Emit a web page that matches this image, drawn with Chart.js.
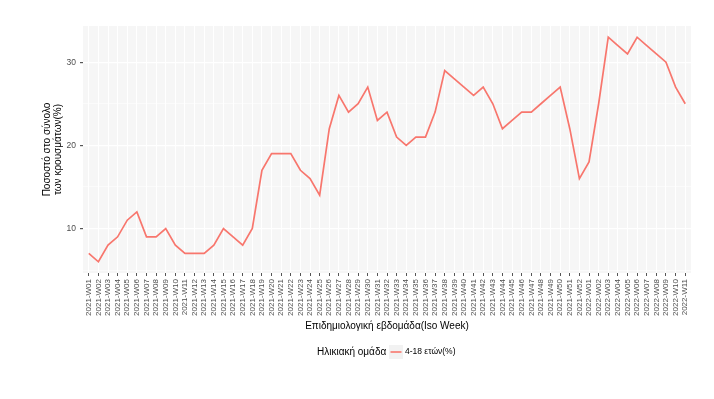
<!DOCTYPE html>
<html>
<head>
<meta charset="utf-8">
<script src="https://cdn.jsdelivr.net/npm/chart.js@4.4.1/dist/chart.umd.min.js"></script>
<style>
  html, body { margin: 0; padding: 0; background: #fff; }
  #wrap { width: 714px; height: 399px; position: relative; }
</style>
</head>
<body>
<div id="wrap"><canvas id="lineChart" width="714" height="399"></canvas></div>
<script>
// Εβδομάδες (ISO)
const weeks = [];
for (let w = 1; w <= 52; w++) weeks.push('2021-W' + String(w).padStart(2, '0'));
for (let w = 1; w <= 11; w++) weeks.push('2022-W' + String(w).padStart(2, '0'));

// Ποσοστό 4-18 ετών
const values = [
    7, 6, 8, 9, 11, 12, 9, 9, 10, 8,
    7, 7, 7, 8, 10, 9, 8, 10, 17, 19,
    19, 19, 17, 16, 14, 22, 26, 24, 25, 27,
    23, 24, 21, 20, 21, 21, 24, 29, 28, 27,
    26, 27, 25, 22, 23, 24, 24, 25, 26, 27,
    22, 16,
    18, 25, 33, 32, 31, 33, 32, 31, 30, 27, 25
];

const yTicks = [5, 10, 15, 20, 25, 30];
const yLabels = [10, 20, 30];

const seriesName = '4-18 ετών(%)';
const legendTitle = 'Ηλικιακή ομάδα';
const lineColor = '#F8766D';

// Φόντο του πάνελ (στυλ ggplot)
const panelBg = {
    id: 'panelBg',
    beforeDraw(chart) {
        const a = chart.chartArea;
        const ctx = chart.ctx;
        ctx.save();
        ctx.fillStyle = '#f6f6f6';
        ctx.fillRect(a.left, a.top, a.right - a.left, a.bottom - a.top);
        ctx.restore();
    }
};

// Υπόμνημα κάτω από το γράφημα
const bottomLegend = {
    id: 'bottomLegend',
    afterDraw(chart) {
        const ctx = chart.ctx;
        const y = 352;
        ctx.save();
        ctx.textBaseline = 'middle';
        ctx.fillStyle = '#000';
        ctx.font = '10px "Liberation Sans", Arial, sans-serif';
        ctx.textAlign = 'left';
        ctx.fillText(legendTitle, 317, y);
        ctx.fillStyle = '#f2f2f2';
        ctx.fillRect(389, y - 7, 14, 14);
        ctx.strokeStyle = lineColor;
        ctx.lineWidth = 1.6;
        ctx.beginPath();
        ctx.moveTo(390.5, y);
        ctx.lineTo(401.5, y);
        ctx.stroke();
        ctx.fillStyle = '#000';
        ctx.font = '8.5px "Liberation Sans", Arial, sans-serif';
        ctx.fillText(seriesName, 405, y);
        ctx.restore();
    }
};

const ctx = document.getElementById('lineChart').getContext('2d');
const lineChart = new Chart(ctx, {
    type: 'line',
    data: {
        datasets: [{
            label: seriesName,
            data: values.map((v, i) => ({ x: i, y: v })),
            borderColor: lineColor,
            borderWidth: 1.7,
            pointRadius: 0,
            tension: 0,
            fill: false
        }]
    },
    options: {
        responsive: false,
        animation: false,
        devicePixelRatio: 1,
        layout: { padding: { left: 42, right: 23, top: 26, bottom: 66 } },
        plugins: {
            legend: { display: false },
            tooltip: { enabled: false }
        },
        scales: {
            x: {
                type: 'linear',
                min: -0.6,
                max: weeks.length - 1 + 0.6,
                afterBuildTicks: (s) => { s.ticks = weeks.map((_, i) => ({ value: i })); },
                afterFit: (s) => { s.height = 60; },
                border: { display: false },
                grid: { color: '#ffffff', lineWidth: 1, tickColor: '#555', tickLength: 3 },
                ticks: {
                    autoSkip: false,
                    minRotation: 90,
                    maxRotation: 90,
                    padding: 3,
                    color: '#4d4d4d',
                    font: { size: 8, family: '"Liberation Sans", Arial, sans-serif' },
                    callback: (v) => weeks[v]
                },
                title: {
                    display: true,
                    text: 'Επιδημιολογική εβδομάδα(Iso Week)',
                    color: '#000',
                    padding: { top: 0, bottom: 1 },
                    font: { size: 10, family: '"Liberation Sans", Arial, sans-serif' }
                }
            },
            y: {
                min: 4.65,
                max: 34.35,
                afterBuildTicks: (s) => { s.ticks = yTicks.map(v => ({ value: v })); },
                afterFit: (s) => { s.width = 41; },
                border: { display: false },
                grid: {
                    color: '#ffffff',
                    lineWidth: (c) => yLabels.includes(c.tick && c.tick.value) ? 1.2 : 0.6,
                    tickColor: (c) => yLabels.includes(c.tick && c.tick.value) ? '#555' : 'rgba(0,0,0,0)',
                    tickLength: 3
                },
                ticks: {
                    padding: 4,
                    color: '#4d4d4d',
                    font: { size: 8.5, family: '"Liberation Sans", Arial, sans-serif' },
                    callback: (v) => yLabels.includes(v) ? String(v) : ''
                },
                title: {
                    display: true,
                    text: ['Ποσοστό στο σύνολο', 'των κρουσμάτων(%)'],
                    color: '#000',
                    padding: { top: 0, bottom: 0 },
                    font: { size: 10, lineHeight: 1.1, family: '"Liberation Sans", Arial, sans-serif' }
                }
            }
        }
    },
    plugins: [panelBg, bottomLegend]
});
</script>
</body>
</html>
